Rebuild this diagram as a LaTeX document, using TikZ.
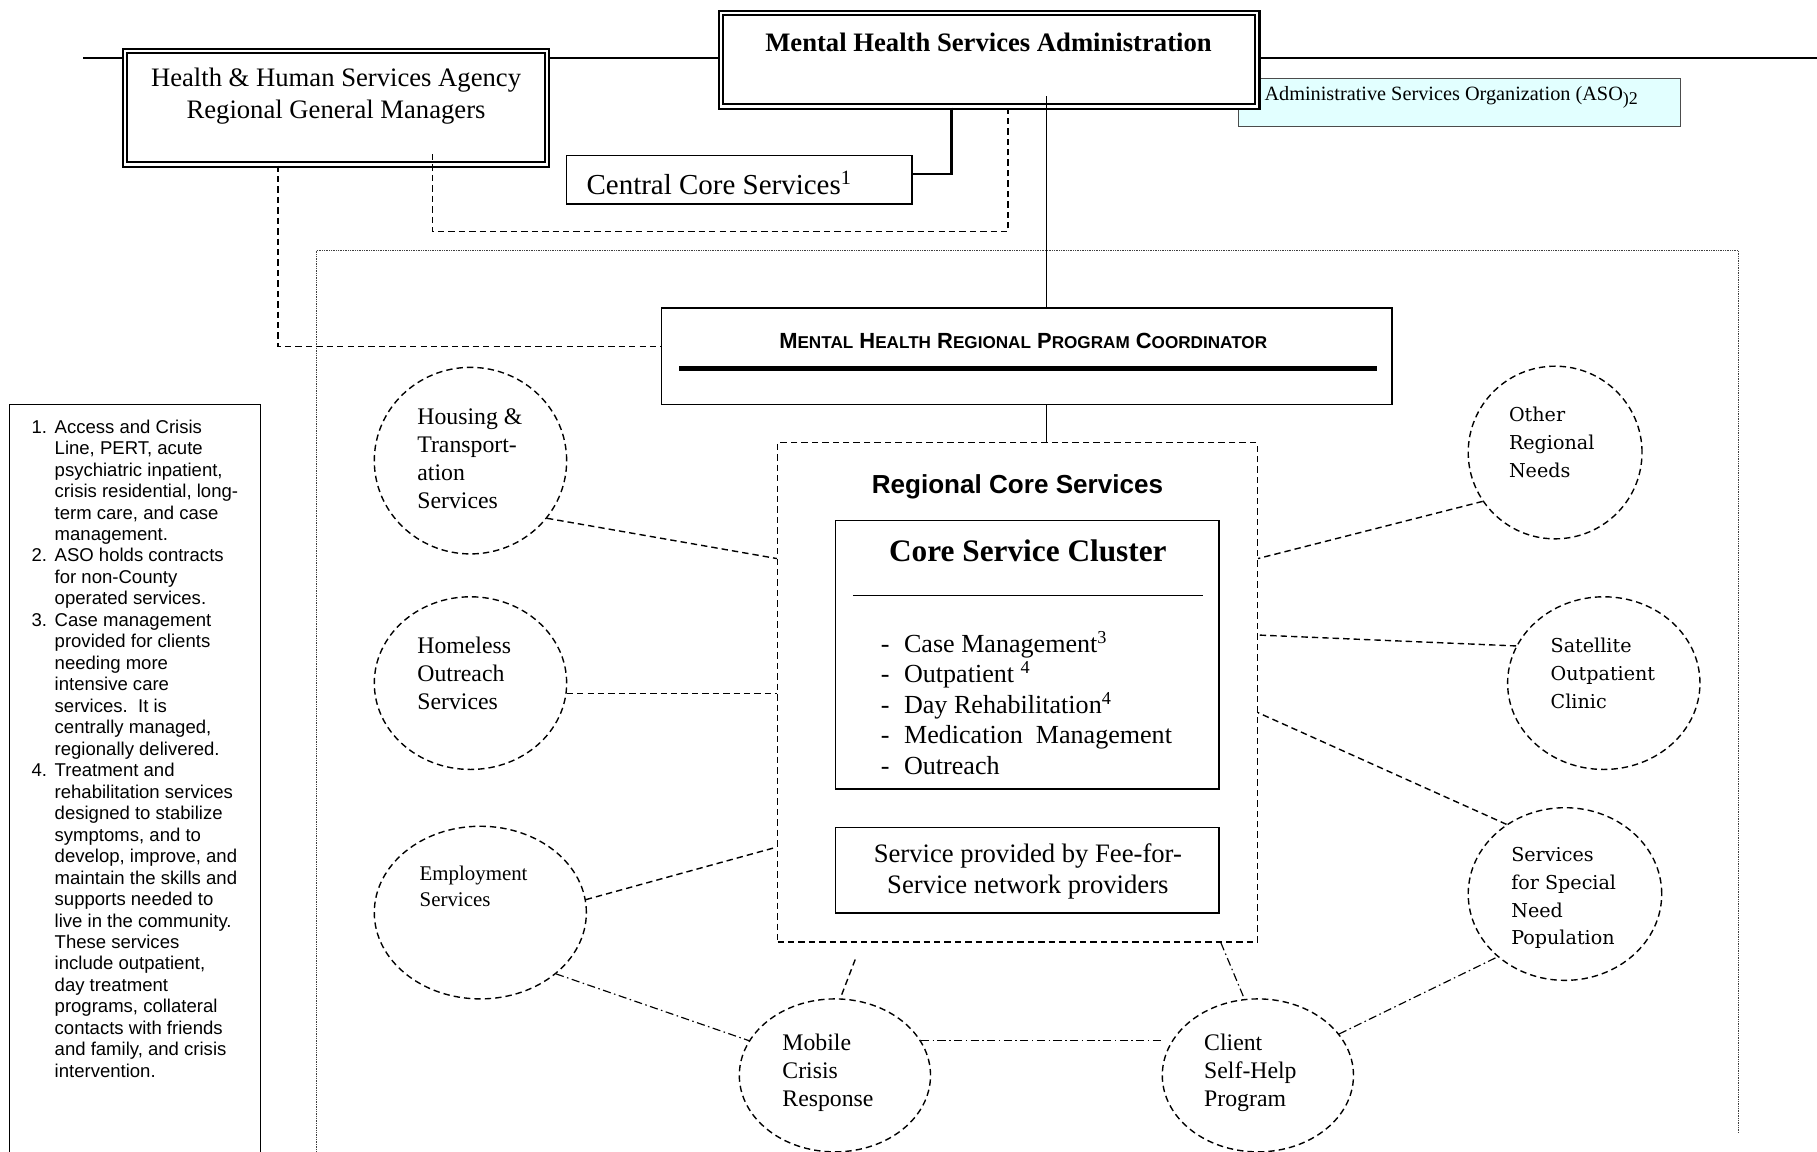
\documentclass[tikz,border=0pt]{standalone}
\usepackage{fontspec}
\setmainfont{Liberation Serif}
\setsansfont{Liberation Sans}
\newfontfamily\wideserif{DejaVu Serif}
\usepackage{graphicx}
\usetikzlibrary{shapes.geometric,calc}
\definecolor{asofill}{RGB}{226,255,255}
\newcommand\smcp[1]{{\fontsize{12.5}{14}\selectfont #1}}
\newcommand\fnum[1]{\makebox[20pt][l]{#1}}
\newcommand\find{\hspace*{20pt}}
\newcommand\ldash{\makebox[20pt][l]{-}}
\tikzset{
  dsh/.style={dash pattern=on 5.5pt off 3.5pt, line width=1.2pt},
  dshdot/.style={dash pattern=on 7pt off 3pt on 1.3pt off 3pt, line width=1pt},
  oval/.style={ellipse, draw, dsh, inner sep=0pt},
  txt/.style={inner sep=0pt, align=left, anchor=west},
  ctxt/.style={inner sep=0pt, align=center},
  dbl/.style={draw, double, double distance=2pt, line width=1.8pt, fill=white, inner sep=0pt},
  plainbox/.style={draw, line width=1.3pt, fill=white, inner sep=0pt},
  circfont/.style={font=\fontsize{20.5}{24}\selectfont},
  widefont/.style={font=\wideserif\fontsize{16.5}{24}\selectfont},
}
\begin{document}
\begin{tikzpicture}[x=1pt,y=-1pt]
\clip (0,0) rectangle (1568,994);
\fill[white] (0,0) rectangle (1568,994);

% dotted regional area
\draw[line width=1pt, dash pattern=on 0.8pt off 0.7pt, black!75] (273,1000) -- (273,216) -- (1500,216) -- (1500,978);

% ASO box (behind MHSA)
\node[draw=black!70, line width=1.2pt, fill=asofill, minimum width=381pt, minimum height=41pt, inner sep=0pt] (aso) at (1259.5,88.5) {};
\node[txt, font=\fontsize{17.5}{20}\selectfont] (asot) at (1091,84) {Administrative Services Organization (ASO\raisebox{-0.45ex}{\fontsize{15.5}{17}\selectfont )2}};

% top boxes
\node[dbl, minimum width=364pt, minimum height=98pt] (hhsa) at (290,93) {};
\node[ctxt, font=\fontsize{23}{27}\selectfont] (hhsat) at (290,83) {Health \& Human Services Agency\\Regional General Managers};

\node[dbl, minimum width=463pt, minimum height=81pt] (mhsa) at (853.5,51.5) {};
\node[ctxt, font=\bfseries\fontsize{23}{27}\selectfont] (mhsat) at (853,37) {Mental Health Services Administration};

\node[plainbox, minimum width=298pt, minimum height=42pt] (ccs) at (638,155) {};
\node[txt, font=\fontsize{25}{28}\selectfont] (ccst) at (506,158) {Central Core Services\textsuperscript{1}};

% coordinator
\node[plainbox, line width=1.4pt, minimum width=630pt, minimum height=83pt] (coord) at (886,307.5) {};
\node[inner sep=0pt, font=\sffamily\bfseries] (coordt) at (883,294) {\resizebox{421pt}{!}{\fontsize{16}{18}\selectfont M\smcp{ENTAL} H\smcp{EALTH} R\smcp{EGIONAL} P\smcp{ROGRAM} C\smcp{OORDINATOR}}};
\coordinate (cl) at (586,318);
\coordinate (cr) at (1188,318);
\draw[line width=3.5pt] (cl) -- (cr);

% regional core services
\node[draw, dsh, minimum width=414pt, minimum height=431pt, inner sep=0pt] (rcs) at (878,597.5) {};
\node[ctxt, font=\sffamily\bfseries\fontsize{22.5}{26}\selectfont] (rcst) at (878,420) {Regional Core Services};

\node[plainbox, line width=1.4pt, minimum width=331pt, minimum height=232pt] (csc) at (886.5,565) {};
\node[ctxt, font=\bfseries\fontsize{27}{30}\selectfont] (csct) at (887,475) {Core Service Cluster};
\coordinate (sl) at (736,514);
\coordinate (sr) at (1038,514);
\draw[line width=1.4pt] (sl) -- (sr);
\node[txt, font=\fontsize{22.5}{26.3}\selectfont] (cscl) at (760,606.5) {\ldash Case Management\textsuperscript{3}\\ \ldash Outpatient \textsuperscript{4}\\ \ldash Day Rehabilitation\textsuperscript{4}\\ \ldash Medication\ \ Management\\ \ldash Outreach};

\node[plainbox, line width=1.4pt, minimum width=331pt, minimum height=74pt] (fee) at (886.5,751) {};
\node[ctxt, font=\fontsize{23}{26}\selectfont] (feet) at (887,752) {Service provided by Fee-for-\\Service network providers};

% satellite ovals
\node[oval, minimum width=166pt, minimum height=161pt] (hous) at (406,397.5) {};
\node[txt, circfont] (houst) at (360,396) {Housing \&\\Transport-\\ation\\Services};
\node[oval, minimum width=166pt, minimum height=149pt] (homl) at (406,589.5) {};
\node[txt, circfont] (homlt) at (360,581) {Homeless\\Outreach\\Services};
\node[oval, minimum width=183pt, minimum height=149pt] (empl) at (414.5,787.5) {};
\node[txt, font=\fontsize{18}{22}\selectfont] (emplt) at (362,765) {Employment\\Services};
\node[oval, minimum width=165pt, minimum height=132pt] (mobl) at (720.5,928) {};
\node[txt, circfont] (moblt) at (675,926) {Mobile\\Crisis\\Response};
\node[oval, minimum width=165pt, minimum height=132pt] (clnt) at (1085.5,928) {};
\node[txt, circfont] (clntt) at (1039,926) {Client\\Self-Help\\Program};
\node[oval, minimum width=150pt, minimum height=149pt] (othr) at (1342,390.5) {};
\node[txt, widefont] (othrt) at (1302,382) {Other\\Regional\\Needs};
\node[oval, minimum width=166pt, minimum height=149pt] (satl) at (1384,589.5) {};
\node[txt, widefont] (satlt) at (1338,581) {Satellite\\Outpatient\\Clinic};
\node[oval, minimum width=167pt, minimum height=149pt] (spec) at (1350.5,771.5) {};
\node[txt, widefont] (spect) at (1304,775) {Services\\for Special\\Need\\Population};

% footnote box
\node[plainbox, fill=none, minimum width=217pt, minimum height=691pt] (fnbox) at (116.5,694.5) {};
\node[txt, font=\sffamily\fontsize{16}{18.53}\selectfont] (fnt) at (27,646) {\fnum{1.}Access and Crisis\\ \find Line, PERT, acute\\ \find psychiatric inpatient,\\ \find crisis residential, long-\\ \find term care, and case\\ \find management.\\ \fnum{2.}ASO holds contracts\\ \find for non-County\\ \find operated services.\\ \fnum{3.}Case management\\ \find provided for clients\\ \find needing more\\ \find intensive care\\ \find services.\ \ It is\\ \find centrally managed,\\ \find regionally delivered.\\ \fnum{4.}Treatment and\\ \find rehabilitation services\\ \find designed to stabilize\\ \find symptoms, and to\\ \find develop, improve, and\\ \find maintain the skills and\\ \find supports needed to\\ \find live in the community.\\ \find These services\\ \find include outpatient,\\ \find day treatment\\ \find programs, collateral\\ \find contacts with friends\\ \find and family, and crisis\\ \find intervention.};

% top connectors
\coordinate (tl) at (72,50);
\coordinate (tr) at (1568,50);
\draw[line width=1.6pt] (tl) -- (tl -| hhsa.west);
\draw[line width=1.6pt] (hhsa.east |- tl) -- (tl -| mhsa.west);
\draw[line width=1.6pt] (mhsa.east |- tl) -- (tr);

\coordinate (j1) at (821,150);
\draw[line width=2pt] (j1 |- mhsa.south) -- (j1) -- (j1 -| ccs.east);

\coordinate (d1) at (373,200);
\coordinate (d2) at (870,200);
\draw[dsh] ($(d1 |- hhsa.south)+(0,-10)$) -- (d1) -- (d2) -- (d2 |- mhsa.south);

\coordinate (d3) at (240,299);
\draw[dsh] (d3 |- hhsa.south) -- (d3) -- (d3 -| coord.west);

\coordinate (vx) at (903,83);
\draw[line width=1.3pt] (vx) -- (vx |- coord.north);
\draw[line width=1.3pt] (vx |- coord.south) -- (vx |- rcs.north);

% oval connectors
\draw[dsh] (hous.-37) -- (rcs.west |- 0,482);
\draw[dsh] (homl.-6) -- (rcs.west |- homl.-6);
\draw[dsh] (empl.7) -- (rcs.west |- 0,731);
\draw[dsh] (othr.214) -- (rcs.east |- 0,482);
\draw[dsh] (satl.157) -- (rcs.east |- 0,548);
\draw[dsh] (spec.130) -- (rcs.east |- 0,615);
\coordinate (mtop) at (738,828);
\draw[dsh] (mtop) -- (mobl.86);
\draw[dshdot] ([xshift=-32pt]rcs.south east) -- (clnt.100);
\draw[dshdot] (empl.-39) -- (mobl.158);
\draw[dshdot] (mobl.22) -- (mobl.22 -| clnt.west);
\draw[dshdot] (clnt.27) -- (spec.-137);
\end{tikzpicture}
\end{document}
